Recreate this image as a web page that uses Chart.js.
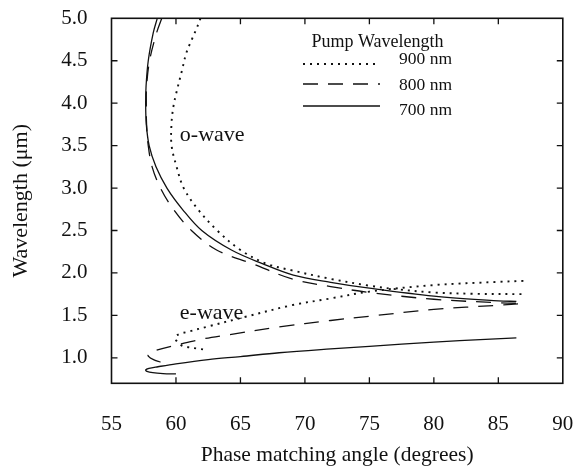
<!DOCTYPE html>
<html>
<head>
<meta charset="utf-8">
<script src="https://cdn.jsdelivr.net/npm/chart.js@4.4.0/dist/chart.umd.min.js"></script>
<style>
html,body{margin:0;padding:0;background:#fff;}
#wrap{width:574px;height:472px;}
</style>
</head>
<body>
<div id="wrap"><canvas id="c" width="574" height="472"></canvas></div>
<script>
// ---- tick labels ----
const xTickValues = [55, 60, 65, 70, 75, 80, 85, 90];
const yTickValues = [1.0, 1.5, 2.0, 2.5, 3.0, 3.5, 4.0, 4.5, 5.0];

// ---- series: pump 700 nm (solid) ----
const o700Angle = [58.55, 58.24, 57.85, 57.68, 57.65, 57.7, 57.92, 58.45, 59.3, 60.5, 62.0, 64.3, 66.7, 69.1, 72.0, 75.0, 80.0, 85.0, 86.4];
const o700Wl    = [5.0,   4.83,  4.5,   4.2,   4.0,   3.75, 3.5,  3.25,  3.0,  2.75, 2.5,  2.27, 2.11, 1.975, 1.89, 1.82, 1.727, 1.672, 1.665];
const e700Angle = [60.0, 59.0, 58.2, 57.75, 57.65, 57.9, 58.6, 60.0, 62.5, 65.0, 68.0, 72.0, 75.0, 80.0, 84.0, 86.4];
const e700Wl    = [0.81, 0.815, 0.825, 0.84, 0.857, 0.875, 0.895, 0.93, 0.98, 1.015, 1.06, 1.105, 1.135, 1.185, 1.218, 1.235];

// ---- series: pump 800 nm (dashed) ----
const o800Angle = [58.9, 58.5, 57.95, 57.72, 57.7, 57.72, 57.85, 58.15, 58.8, 59.8, 61.2, 63.15, 65.9, 69.1, 72.0, 75.0, 80.0, 85.0, 87.0];
const o800Wl    = [5.0,  4.83, 4.5,   4.2,   4.0,  3.75,  3.5,   3.25,  3.0,  2.75, 2.5,  2.27,  2.11, 1.925, 1.84, 1.77, 1.69, 1.65, 1.64];
const e800Angle = [58.8, 58.3, 57.85, 57.9, 58.5, 60.3, 62.0, 64.0, 68.0, 72.0, 75.0, 80.0, 85.0, 87.0];
const e800Wl    = [0.95, 0.975, 1.02, 1.05, 1.09, 1.16, 1.22, 1.27, 1.365, 1.44, 1.49, 1.57, 1.62, 1.64];

// ---- series: pump 900 nm (dotted) ----
const o900Angle = [61.9, 61.6, 61.2, 60.8, 60.44, 60.05, 59.8, 59.65, 59.66, 60.05, 60.6, 61.7, 63.2, 65.0, 67.0, 69.0, 72.0, 75.0, 77.0, 80.0, 83.0, 87.0];
const o900Wl    = [5.0,  4.88, 4.74, 4.59, 4.37,  4.135, 3.96, 3.75,  3.5,   3.25,  3.0,  2.75, 2.5,  2.27, 2.11, 2.03, 1.93, 1.85, 1.81, 1.77, 1.755, 1.75];
const e900Angle = [62.1, 61.6, 60.8, 60.4, 60.0, 60.05, 61.0, 62.5, 65.2, 69.0, 72.0, 75.0, 80.0, 85.0, 87.0];
const e900Wl    = [1.10, 1.11, 1.13, 1.15, 1.21, 1.265, 1.31, 1.37, 1.476, 1.62, 1.70, 1.78, 1.857, 1.895, 1.907];

// ---- legend & annotations ----
const legendTitle = 'Pump Wavelength';
const legendLabels = ['900 nm', '800 nm', '700 nm'];
const annoText  = ['o-wave', 'e-wave'];
const annoAngle = [60.3, 60.3];
const annoWl    = [3.625, 1.527];

const FONT = "'Liberation Serif', 'Times New Roman', serif";
const INK = '#111';

function pts(a, w) { return a.map((x, i) => ({ x: x, y: w[i] })); }

const styles = {
  dotted: { borderDash: [2, 5], borderWidth: 1.9 },
  dashed: { borderDash: [15, 10], borderWidth: 1.3 },
  solid:  { borderDash: [], borderWidth: 1.3 }
};

function ds(label, a, w, st) {
  return Object.assign({
    label: label, data: pts(a, w), showLine: true, pointRadius: 0,
    borderColor: INK, backgroundColor: INK, tension: 0.35, fill: false
  }, styles[st]);
}

const datasets = [
  ds('900 nm o', o900Angle, o900Wl, 'dotted'),
  ds('900 nm e', e900Angle, e900Wl, 'dotted'),
  ds('800 nm o', o800Angle, o800Wl, 'dashed'),
  ds('800 nm e', e800Angle, e800Wl, 'dashed'),
  ds('700 nm o', o700Angle, o700Wl, 'solid'),
  ds('700 nm e', e700Angle, e700Wl, 'solid')
];

function zeroPad(s) { s.paddingTop = 0; s.paddingBottom = 0; s.paddingLeft = 0; s.paddingRight = 0; }

const framePlugin = {
  id: 'frame',
  afterDraw(chart) {
    const { ctx, chartArea: a, scales } = chart;
    ctx.save();
    ctx.strokeStyle = INK;
    ctx.lineWidth = 1.6;
    ctx.setLineDash([]);
    ctx.strokeRect(a.left, a.top, a.right - a.left, a.bottom - a.top);
    ctx.lineWidth = 1.3;
    const L = 6;
    scales.x.ticks.forEach(t => {
      const px = scales.x.getPixelForValue(t.value);
      if (px <= a.left + 1 || px >= a.right - 1) return;
      ctx.beginPath();
      ctx.moveTo(px, a.bottom); ctx.lineTo(px, a.bottom - L);
      ctx.moveTo(px, a.top); ctx.lineTo(px, a.top + L);
      ctx.stroke();
    });
    scales.y.ticks.forEach(t => {
      const py = scales.y.getPixelForValue(t.value);
      if (py <= a.top + 1 || py >= a.bottom - 1) return;
      ctx.beginPath();
      ctx.moveTo(a.left, py); ctx.lineTo(a.left + L, py);
      ctx.moveTo(a.right, py); ctx.lineTo(a.right - L, py);
      ctx.stroke();
    });
    // annotations
    ctx.fillStyle = INK;
    ctx.font = '22px ' + FONT;
    ctx.textAlign = 'left';
    ctx.textBaseline = 'middle';
    annoText.forEach((s, i) => {
      ctx.fillText(s, scales.x.getPixelForValue(annoAngle[i]), scales.y.getPixelForValue(annoWl[i]));
    });
    // legend
    ctx.font = '18px ' + FONT;
    ctx.textAlign = 'center';
    ctx.fillText(legendTitle, 377.5, 42);
    const rowsText = [59.5, 85, 110];
    const rowsLine = [64, 84, 106];
    const dsIdx = [0, 2, 4];
    ctx.textAlign = 'left';
    ctx.font = '17.5px ' + FONT;
    legendLabels.forEach((s, i) => {
      const d = chart.data.datasets[dsIdx[i]];
      ctx.save();
      ctx.lineWidth = d.borderWidth;
      ctx.setLineDash(d.borderDash);
      ctx.beginPath();
      ctx.moveTo(303, rowsLine[i]); ctx.lineTo(380, rowsLine[i]);
      ctx.stroke();
      ctx.restore();
      ctx.fillText(s, 399, rowsText[i]);
    });
    ctx.restore();
  }
};

new Chart(document.getElementById('c'), {
  type: 'scatter',
  data: { datasets: datasets },
  options: {
    responsive: false,
    animation: false,
    layout: { padding: { left: 0, right: 11.2, top: 18.3, bottom: 0 } },
    plugins: { legend: { display: false }, tooltip: { enabled: false } },
    scales: {
      x: {
        type: 'linear', min: 55, max: 90,
        afterBuildTicks: s => { s.ticks = xTickValues.map(v => ({ value: v })); },
        afterFit: s => { s.height = 88.7; zeroPad(s); },
        grid: { display: false, drawTicks: false },
        border: { display: false },
        ticks: { padding: 29, color: INK, font: { family: FONT, size: 21 }, callback: v => String(v), maxRotation: 0 },
        title: { display: true, text: 'Phase matching angle (degrees)', color: INK,
                 font: { family: FONT, size: 21.5 }, padding: { top: 0, bottom: 4 } }
      },
      y: {
        type: 'linear', min: 0.7, max: 5.0,
        afterBuildTicks: s => { s.ticks = yTickValues.map(v => ({ value: v })); },
        afterFit: s => { s.width = 111.5; zeroPad(s); },
        grid: { display: false, drawTicks: false },
        border: { display: false },
        ticks: { padding: 24, color: INK, font: { family: FONT, size: 21 }, callback: v => Number(v).toFixed(1) },
        title: { display: true, text: 'Wavelength (\u03bcm)', color: INK,
                 font: { family: FONT, size: 22 }, padding: { top: 8, bottom: 0 } }
      }
    }
  },
  plugins: [framePlugin]
});
</script>
</body>
</html>
